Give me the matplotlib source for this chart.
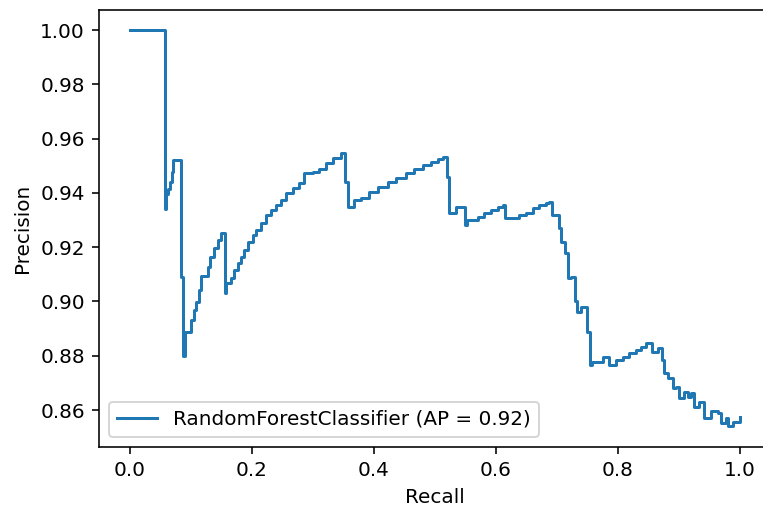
import matplotlib
matplotlib.use("Agg")
import matplotlib.pyplot as plt

recall = [
    0.000, 0.058, 0.0595, 0.0625, 0.066, 0.069, 0.072, 0.0844, 0.0882, 0.0915,
    0.1008, 0.1051, 0.1090, 0.1144, 0.1172, 0.1280, 0.1320, 0.1390, 0.1444, 0.1500,
    0.1570, 0.1590, 0.1664, 0.1718, 0.1773, 0.1828, 0.1882, 0.1936, 0.2018, 0.2074,
    0.2156, 0.2238, 0.2320, 0.2400, 0.2484, 0.2566, 0.2674, 0.2784, 0.2866, 0.3000,
    0.3111, 0.3221, 0.3330, 0.3467, 0.3540, 0.3576, 0.3685, 0.3795, 0.3930, 0.4067,
    0.4231, 0.4369, 0.4533, 0.4669, 0.4805, 0.4943, 0.5051, 0.5133, 0.5198, 0.5243,
    0.5352, 0.5505, 0.5526, 0.5707, 0.5816, 0.5926, 0.6034, 0.6116, 0.6160, 0.6390,
    0.6500, 0.6608, 0.6718, 0.6828, 0.6880, 0.6920, 0.7035, 0.7074, 0.7144, 0.7182,
    0.7238, 0.7308, 0.7330, 0.7400, 0.7494, 0.7550, 0.7582, 0.7756, 0.7854, 0.7975,
    0.8084, 0.8193, 0.8303, 0.8385, 0.8467, 0.8566, 0.8658, 0.8723, 0.8767, 0.8822,
    0.8903, 0.8959, 0.9013, 0.9095, 0.9149, 0.9205, 0.9259, 0.9341, 0.9423, 0.9533,
    0.9641, 0.9697, 0.9779, 0.9805, 0.9887, 1.0000,
]

precision = [
    1.000, 0.934, 0.9395, 0.9415, 0.9440, 0.9478, 0.9520, 0.9090, 0.8800, 0.8888,
    0.8932, 0.8968, 0.8999, 0.9042, 0.9094, 0.9128, 0.9165, 0.9196, 0.9226, 0.9251,
    0.9030, 0.9069, 0.9085, 0.9116, 0.9140, 0.9165, 0.9190, 0.9220, 0.9245, 0.9263,
    0.9288, 0.9318, 0.9337, 0.9355, 0.9374, 0.9398, 0.9417, 0.9435, 0.9472, 0.9478,
    0.9490, 0.9509, 0.9527, 0.9546, 0.9441, 0.9349, 0.9374, 0.9380, 0.9404, 0.9423,
    0.9441, 0.9454, 0.9472, 0.9490, 0.9503, 0.9515, 0.9524, 0.9533, 0.9460, 0.9325,
    0.9347, 0.9282, 0.9300, 0.9312, 0.9325, 0.9337, 0.9347, 0.9355, 0.9308, 0.9318,
    0.9327, 0.9343, 0.9355, 0.9364, 0.9367, 0.9318, 0.9269, 0.9220, 0.9177, 0.9085,
    0.9091, 0.9000, 0.8962, 0.8980, 0.8888, 0.8766, 0.8778, 0.8796, 0.8766, 0.8784,
    0.8796, 0.8809, 0.8820, 0.8833, 0.8846, 0.8815, 0.8827, 0.8784, 0.8735, 0.8717,
    0.8680, 0.8686, 0.8643, 0.8668, 0.8649, 0.8664, 0.8612, 0.8630, 0.8569, 0.8597,
    0.8588, 0.8551, 0.8569, 0.8541, 0.8557, 0.8573,
]

label = "RandomForestClassifier (AP = 0.92)"

fig = plt.figure(figsize=(763 / 144, 511 / 144), dpi=144)
ax = fig.add_axes([99 / 763, 64.3 / 511, 671 / 763, 436.7 / 511])
ax.plot(recall, precision, drawstyle="steps-post", color="#1f77b4",
        linewidth=1.5, label=label)
ax.set_xlim(-0.05, 1.05)
ax.set_ylim(0.8465, 1.0074)
ax.set_xticks([0.0, 0.2, 0.4, 0.6, 0.8, 1.0])
ax.set_yticks([0.86, 0.88, 0.90, 0.92, 0.94, 0.96, 0.98, 1.00])
ax.set_yticklabels(["0.86", "0.88", "0.90", "0.92", "0.94", "0.96", "0.98", "1.00"])
ax.spines["right"].set_visible(False)
ax.set_xlabel("Recall")
ax.set_ylabel("Precision")
ax.legend(loc="lower left")
fig.savefig("out.png", dpi=144)
